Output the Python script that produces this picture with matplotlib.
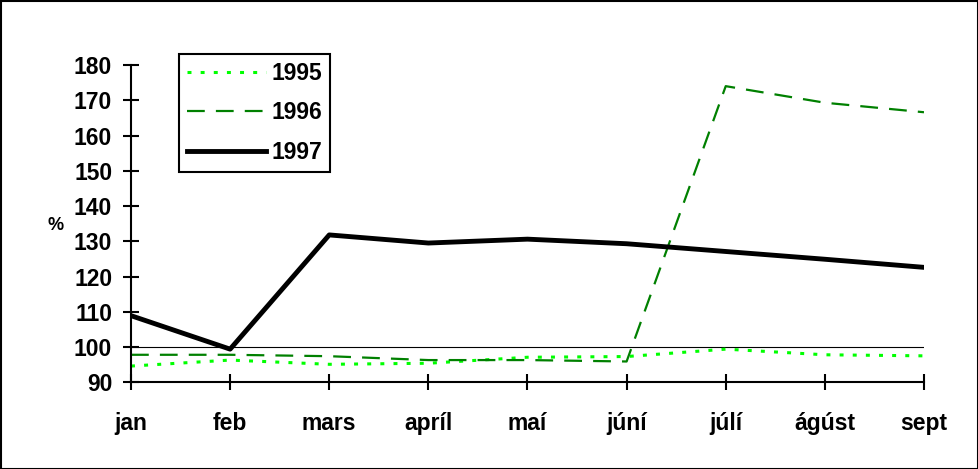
import matplotlib.pyplot as plt
from matplotlib.patches import Rectangle

plt.rcParams['font.family'] = ['Liberation Sans', 'DejaVu Sans']
plt.rcParams['font.weight'] = 'bold'

months = ['jan', 'feb', 'mars', 'apríl', 'maí', 'júní', 'júlí', 'ágúst', 'sept']
y1995 = [94.6, 96.3, 95.1, 95.4, 97.1, 97.3, 99.4, 97.8, 97.5]
y1996 = [97.8, 97.8, 97.4, 96.3, 96.3, 95.9, 174.0, 169.3, 166.6]
y1997 = [108.9, 99.4, 131.8, 129.5, 130.6, 129.3, 127.1, 124.9, 122.6]
yticks = [90, 100, 110, 120, 130, 140, 150, 160, 170, 180]

fig = plt.figure(figsize=(9.79, 4.69), dpi=100)
ax = fig.add_axes([0.1338, 0.1849, 0.81, 0.6765])

x = range(len(months))
ax.axhline(100, color='black', lw=0.8, zorder=1)
ax.plot(x, y1995, color='#00FF00', lw=2.2, dashes=(1.3, 3), dash_capstyle='butt', label='1995')
ax.plot(x, y1996, color='#008000', lw=1.6, dashes=(8, 5), label='1996')
ax.plot(x, y1997, color='black', lw=3.5, label='1997')

ax.set_xlim(0, len(months) - 1)
ax.set_ylim(90, 180)
ax.set_xticks(list(x))
ax.set_xticklabels(months, fontweight='bold')
ax.set_yticks(yticks)
ax.set_yticklabels([str(v) for v in yticks], fontweight='bold')
for s in ['top', 'right']:
    ax.spines[s].set_visible(False)
for s in ['left', 'bottom']:
    ax.spines[s].set_linewidth(1.5)
ax.tick_params(axis='both', direction='inout', length=11, width=1.5, labelsize=16.5)
ax.tick_params(axis='x', pad=16)
ax.tick_params(axis='y', pad=8)

fig.text(56 / 979, 1 - 226 / 469, '%', fontsize=13, fontweight='bold', ha='center', va='center')

leg = ax.legend(loc='upper left', bbox_to_anchor=(0.0605, 1.035), borderaxespad=0,
                prop={'size': 16.5, 'weight': 'bold'}, handlelength=3.45, handletextpad=0.22,
                labelspacing=0.72, fancybox=False, framealpha=1, edgecolor='black', borderpad=0.35)
leg.get_frame().set_linewidth(1.5)

fig.patches.append(Rectangle((0.001, 0.001), 0.998, 0.997, transform=fig.transFigure,
                             fill=False, edgecolor='black', lw=1.5))

fig.savefig('out.png', dpi=100)
